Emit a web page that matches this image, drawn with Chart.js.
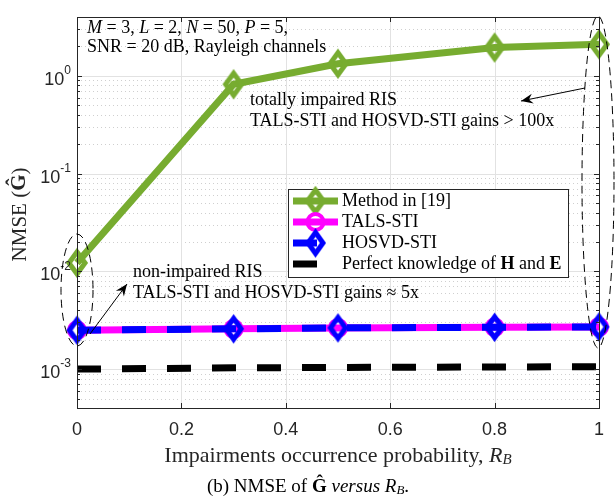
<!DOCTYPE html>
<html>
<head>
<meta charset="utf-8">
<script src="https://cdn.jsdelivr.net/npm/chart.js@4.4.1/dist/chart.umd.min.js"></script>
<style>
  html, body { margin: 0; padding: 0; background: #fff; }
  canvas { display: block; }
</style>
</head>
<body>
<canvas id="nmseChart" width="616" height="497"></canvas>
<script>
// values
const rb = [0, 0.3, 0.5, 0.8, 1];
const method19 = [0.0122, 0.82, 1.33, 1.95, 2.1];
const talsSti = [0.0025, 0.00258, 0.00264, 0.00268, 0.0027];
const hosvdSti = [0.0025, 0.00258, 0.00264, 0.00268, 0.0027];
const perfectHE = [0.001, 0.00103, 0.00104, 0.00105, 0.00106];

const xTicks = [0, 0.2, 0.4, 0.6, 0.8, 1];
const xTickLabels = ["0", "0.2", "0.4", "0.6", "0.8", "1"];
const yDecades = [-3, -2, -1, 0];
const yMin = 4e-4;
const yMax = 4;

const GREEN = "#77AC30";
const MAGENTA = "#FF00FF";
const BLUE = "#0000FF";
const SERIF = '"Liberation Serif", "Times New Roman", serif';
const SANS = '"Liberation Sans", Arial, Helvetica, sans-serif';

// matlab-like 'd' marker (taller than wide)
function diamond(color, w, h, lw) {
  const c = document.createElement("canvas");
  c.width = w + lw * 2 + 4;
  c.height = h + lw * 2 + 4;
  const g = c.getContext("2d");
  const cx = c.width / 2, cy = c.height / 2;
  g.beginPath();
  g.moveTo(cx, cy - h / 2);
  g.lineTo(cx + w / 2, cy);
  g.lineTo(cx, cy + h / 2);
  g.lineTo(cx - w / 2, cy);
  g.closePath();
  g.lineWidth = lw;
  g.strokeStyle = color;
  g.stroke();
  return c;
}
const greenDiamond = diamond(GREEN, 16, 22, 5);
const blueDiamond = diamond(BLUE, 15, 21, 5);

const n = (t, s) => ({ t, font: `${s}px ${SERIF}` });
const it = (t, s) => ({ t, font: `italic ${s}px ${SERIF}` });
const bd = (t, s) => ({ t, font: `bold ${s}px ${SERIF}` });
const sub = (t, s) => ({ t, font: `italic ${s}px ${SERIF}`, dy: 4 });

function richWidth(ctx, parts) {
  let w = 0;
  for (const p of parts) { ctx.font = p.font; w += ctx.measureText(p.t).width; }
  return w;
}
function drawRich(ctx, parts, x, y, align) {
  const w = richWidth(ctx, parts);
  let cx = align === "center" ? x - w / 2 : align === "right" ? x - w : x;
  ctx.textAlign = "left";
  ctx.textBaseline = "middle";
  for (const p of parts) {
    ctx.font = p.font;
    ctx.fillText(p.t, cx, y + (p.dy || 0));
    cx += ctx.measureText(p.t).width;
  }
}
function seg(ctx, x1, y1, x2, y2) {
  ctx.beginPath(); ctx.moveTo(x1, y1); ctx.lineTo(x2, y2); ctx.stroke();
}
function arrow(ctx, x1, y1, x2, y2) {
  ctx.save();
  ctx.strokeStyle = "#000"; ctx.fillStyle = "#000"; ctx.lineWidth = 1;
  seg(ctx, x1, y1, x2, y2);
  const a = Math.atan2(y2 - y1, x2 - x1);
  ctx.translate(x2, y2); ctx.rotate(a);
  ctx.beginPath();
  ctx.moveTo(0, 0); ctx.lineTo(-12, -5); ctx.lineTo(-8, 0); ctx.lineTo(-12, 5);
  ctx.closePath(); ctx.fill();
  ctx.restore();
}
function dashedEllipse(ctx, cx, cy, rx, ry) {
  ctx.save();
  ctx.strokeStyle = "#000"; ctx.lineWidth = 1; ctx.setLineDash([8, 5]);
  ctx.beginPath(); ctx.ellipse(cx, cy, rx, ry, 0, 0, Math.PI * 2); ctx.stroke();
  ctx.restore();
}

const gridPlugin = {
  id: "matlabGrid",
  beforeDatasetsDraw(chart) {
    const { ctx, chartArea: a, scales: { x, y } } = chart;
    ctx.save();
    ctx.lineWidth = 1;
    ctx.strokeStyle = "#cfcfcf";
    ctx.setLineDash([1, 3]);
    for (let d = -4; d <= 0; d++) {
      for (let m = 2; m <= 9; m++) {
        const v = m * Math.pow(10, d);
        if (v <= yMin || v >= yMax) continue;
        const py = Math.round(y.getPixelForValue(v)) + 0.5;
        seg(ctx, a.left, py, a.right, py);
      }
    }
    ctx.setLineDash([]);
    ctx.strokeStyle = "#e2e2e2";
    yDecades.forEach((d) => {
      const py = Math.round(y.getPixelForValue(Math.pow(10, d))) + 0.5;
      seg(ctx, a.left, py, a.right, py);
    });
    xTicks.forEach((v) => {
      const px = Math.round(x.getPixelForValue(v)) + 0.5;
      seg(ctx, px, a.top, px, a.bottom);
    });
    ctx.restore();
  }
};

const decorPlugin = {
  id: "decor",
  afterDraw(chart) {
    const { ctx, chartArea: a, scales: { x, y } } = chart;
    ctx.save();

    // axes box and ticks
    ctx.strokeStyle = "#262626";
    ctx.lineWidth = 1;
    ctx.strokeRect(Math.round(a.left) + 0.5, Math.round(a.top) + 0.5,
      Math.round(a.right - a.left), Math.round(a.bottom - a.top));
    xTicks.forEach((v) => {
      const px = Math.round(x.getPixelForValue(v)) + 0.5;
      seg(ctx, px, a.bottom, px, a.bottom - 5);
      seg(ctx, px, a.top, px, a.top + 5);
    });
    for (let d = -4; d <= 0; d++) {
      for (let m = 1; m <= 9; m++) {
        const v = m * Math.pow(10, d);
        if (v < yMin || v > yMax) continue;
        const len = m === 1 ? 5 : 3;
        const py = Math.round(y.getPixelForValue(v)) + 0.5;
        seg(ctx, a.left, py, a.left + len, py);
        seg(ctx, a.right, py, a.right - len, py);
      }
    }

    // tick labels
    ctx.fillStyle = "#262626";
    ctx.textAlign = "center";
    ctx.textBaseline = "middle";
    ctx.font = `18px ${SANS}`;
    xTicks.forEach((v, i) => ctx.fillText(xTickLabels[i], x.getPixelForValue(v), a.bottom + 22));
    yDecades.forEach((d) => {
      const py = y.getPixelForValue(Math.pow(10, d));
      drawRich(ctx, [
        { t: "10", font: `18px ${SANS}`, dy: 4 },
        { t: String(d), font: `12px ${SANS}`, dy: -5 }
      ], a.left - 6, py, "right");
    });

    // axis titles and caption
    ctx.fillStyle = "#262626";
    drawRich(ctx, [n("Impairments occurrence probability, ", 22), it("R", 22), sub("B", 15)],
      (a.left + a.right) / 2, a.bottom + 48, "center");
    ctx.save();
    ctx.translate(20, (a.top + a.bottom) / 2 + 2);
    ctx.rotate(-Math.PI / 2);
    drawRich(ctx, [n("NMSE (", 21), bd("\u011C", 21), n(")", 21)], 0, 0, "center");
    ctx.restore();
    ctx.fillStyle = "#000";
    drawRich(ctx, [n("(b) NMSE of ", 19), bd("\u011C", 19), n(" ", 19), it("versus", 19),
      n(" ", 19), it("R", 19), sub("B", 13), n(".", 19)], 308, 487, "center");

    // in-plot notes
    ctx.fillStyle = "#000";
    drawRich(ctx, [it("M", 18), n(" = 3, ", 18), it("L", 18), n(" = 2, ", 18), it("N", 18),
      n(" = 50, ", 18), it("P", 18), n(" = 5,", 18)], 87, 28, "left");
    drawRich(ctx, [n("SNR = 20 dB, Rayleigh channels", 18)], 87, 47, "left");
    drawRich(ctx, [n("totally impaired RIS", 18)], 250, 100, "left");
    drawRich(ctx, [n("TALS-STI and HOSVD-STI gains > 100x", 18)], 250, 121, "left");
    drawRich(ctx, [n("non-impaired RIS", 18)], 133, 272, "left");
    drawRich(ctx, [n("TALS-STI and HOSVD-STI gains \u2248 5x", 18)], 133, 293, "left");

    dashedEllipse(ctx, 598, 182, 16, 166);
    dashedEllipse(ctx, 77, 290, 16, 56);
    arrow(ctx, 585, 88, 521, 101);
    arrow(ctx, 90, 334, 127, 284);

    // legend
    const lx = 288, ly = 189, lw = 280, lh = 88;
    ctx.fillStyle = "#fff";
    ctx.fillRect(lx, ly, lw, lh);
    ctx.strokeStyle = "#262626";
    ctx.lineWidth = 1;
    ctx.strokeRect(lx + 0.5, ly + 0.5, lw, lh);
    const rows = [ly + 12, ly + 33, ly + 54, ly + 75];
    const s0 = 293, s1 = 338, sm = 315.5;
    ctx.lineCap = "butt";
    // Method in [19]
    ctx.strokeStyle = GREEN; ctx.lineWidth = 7;
    seg(ctx, s0, rows[0], s1, rows[0]);
    ctx.drawImage(greenDiamond, sm - greenDiamond.width / 2, rows[0] - greenDiamond.height / 2);
    // TALS-STI
    ctx.strokeStyle = MAGENTA; ctx.lineWidth = 7;
    seg(ctx, s0, rows[1], s1, rows[1]);
    ctx.lineWidth = 4;
    ctx.beginPath(); ctx.arc(sm, rows[1], 8, 0, Math.PI * 2); ctx.stroke();
    // HOSVD-STI
    ctx.strokeStyle = BLUE; ctx.lineWidth = 7; ctx.setLineDash([24, 21]);
    seg(ctx, s0, rows[2], s1, rows[2]);
    ctx.setLineDash([]);
    ctx.drawImage(blueDiamond, sm - blueDiamond.width / 2, rows[2] - blueDiamond.height / 2);
    // Perfect knowledge
    ctx.strokeStyle = "#000"; ctx.lineWidth = 7; ctx.setLineDash([24, 21]);
    seg(ctx, s0, rows[3], s1, rows[3]);
    ctx.setLineDash([]);

    ctx.fillStyle = "#000";
    drawRich(ctx, [n("Method in [19]", 18)], 342, rows[0], "left");
    drawRich(ctx, [n("TALS-STI", 18)], 342, rows[1], "left");
    drawRich(ctx, [n("HOSVD-STI", 18)], 342, rows[2], "left");
    drawRich(ctx, [n("Perfect knowledge of ", 18), bd("H", 18), n(" and ", 18), bd("E", 18)], 342, rows[3], "left");

    ctx.restore();
  }
};

const toPoints = (ys) => rb.map((x, i) => ({ x, y: ys[i] }));

new Chart(document.getElementById("nmseChart"), {
  type: "line",
  data: {
    datasets: [
      {
        label: "Method in [19]",
        data: toPoints(method19),
        borderColor: GREEN,
        borderWidth: 7,
        pointStyle: greenDiamond,
        pointRadius: 10,
        tension: 0,
        clip: false,
        order: 3
      },
      {
        label: "TALS-STI",
        data: toPoints(talsSti),
        borderColor: MAGENTA,
        borderWidth: 7,
        pointStyle: "circle",
        pointRadius: 8,
        pointBorderWidth: 4,
        pointBorderColor: MAGENTA,
        pointBackgroundColor: "rgba(0,0,0,0)",
        tension: 0,
        clip: false,
        order: 2
      },
      {
        label: "HOSVD-STI",
        data: toPoints(hosvdSti),
        borderColor: BLUE,
        borderWidth: 7,
        borderDash: [24, 21],
        pointStyle: blueDiamond,
        pointRadius: 10,
        tension: 0,
        clip: false,
        order: 1
      },
      {
        label: "Perfect knowledge of H and E",
        data: toPoints(perfectHE),
        borderColor: "#000",
        borderWidth: 7,
        borderDash: [24, 21],
        pointRadius: 0,
        tension: 0,
        clip: false,
        order: 0
      }
    ]
  },
  options: {
    responsive: false,
    animation: false,
    devicePixelRatio: 1,
    events: [],
    layout: { padding: { top: 12, right: 17, left: 0, bottom: 0 } },
    scales: {
      x: {
        type: "linear", min: 0, max: 1,
        ticks: { display: false }, grid: { display: false }, border: { display: false },
        afterFit: (s) => { s.height = 89; }
      },
      y: {
        type: "logarithmic", min: yMin, max: yMax,
        ticks: { display: false }, grid: { display: false }, border: { display: false },
        afterFit: (s) => { s.width = 77; }
      }
    },
    plugins: { legend: { display: false }, tooltip: { enabled: false } }
  },
  plugins: [gridPlugin, decorPlugin]
});
</script>
</body>
</html>
